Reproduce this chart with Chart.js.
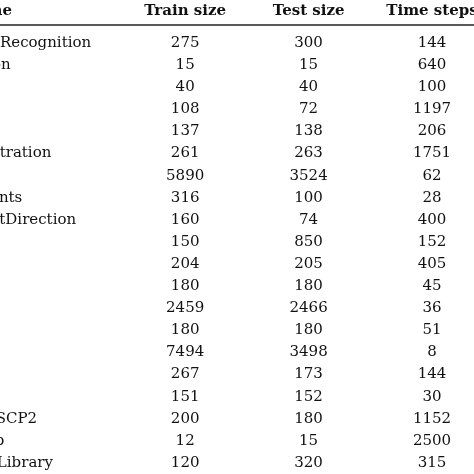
<!DOCTYPE html>
<html><head><meta charset="utf-8">
<script src="https://cdn.jsdelivr.net/npm/chart.js@4"></script>
<style>html,body{margin:0;padding:0;background:#fff}#c{display:block}</style>
</head><body>
<div style="width:474px;height:474px"><canvas id="c"></canvas></div>
<script>
const headers = ["Dataset name", "Train size", "Test size", "Time steps"];
const names = ["ArticularyWordRecognition","AtrialFibrillation","BasicMotions","Cricket","Epilepsy",
  "EthanolConcentration","FaceDetection","FingerMovements","HandMovementDirection","Handwriting",
  "Heartbeat","Libras","LSST","NATOPS","PenDigits","PEMS-SF","RacketSports","SelfRegulationSCP2",
  "StandWalkJump","UWaveGestureLibrary"];
const trainSize = [275,15,40,108,137,261,5890,316,160,150,204,180,2459,180,7494,267,151,200,12,120];
const testSize  = [300,15,40,72,138,263,3524,100,74,850,205,180,2466,180,3498,173,152,180,15,320];
const timeSteps = [144,640,100,1197,206,1751,62,28,400,152,405,45,36,51,8,144,30,1152,2500,315];

const FONT = '15px "DejaVu Serif", "Liberation Serif", serif';
const BOLD = 'bold 15px "DejaVu Serif", "Liberation Serif", serif';

const points = [];
const cols = [trainSize, testSize, timeSteps];
names.forEach((n, r) => {
  points.push({x: 0, y: n, t: n});
  cols.forEach((c, k) => points.push({x: k + 1, y: n, t: String(c[r])}));
});

const tablePlugin = {
  id: 'table',
  afterDatasetsDraw(chart) {
    const ctx = chart.ctx, xs = chart.scales.x, area = chart.chartArea;
    ctx.save();
    ctx.fillStyle = '#111';
    ctx.textBaseline = 'middle';
    ctx.font = FONT;
    const nameLeft = -ctx.measureText("ArticularyWord").width;
    const meta = chart.getDatasetMeta(0);
    meta.data.forEach((el, i) => {
      const p = points[i];
      if (p.x === 0) { ctx.textAlign = 'left'; ctx.fillText(p.t, nameLeft, el.y); }
      else { ctx.textAlign = 'center'; ctx.fillText(p.t, el.x, el.y); }
    });
    ctx.font = BOLD;
    const hy = area.top - 21;
    headers.forEach((h, k) => {
      if (k === 0) { ctx.textAlign = 'right'; ctx.fillText(h, 12, hy); }
      else { ctx.textAlign = 'center'; ctx.fillText(h, xs.getPixelForValue(k), hy); }
    });
    ctx.strokeStyle = '#222';
    ctx.lineWidth = 1.4;
    ctx.beginPath();
    ctx.moveTo(0, area.top - 7); ctx.lineTo(chart.width, area.top - 7);
    ctx.stroke();
    ctx.restore();
  }
};

new Chart(document.getElementById('c'), {
  type: 'scatter',
  data: { datasets: [{ data: points, pointRadius: 0, pointHoverRadius: 0 }] },
  options: {
    responsive: true, maintainAspectRatio: false, animation: false,
    layout: { padding: { top: 32, left: 0, right: 0, bottom: 0 } },
    plugins: { legend: { display: false }, tooltip: { enabled: false } },
    scales: {
      x: { type: 'linear', min: -0.5, max: 3.34, display: false },
      y: { type: 'category', labels: names, offset: true, display: false }
    }
  },
  plugins: [tablePlugin]
});
</script>
</body></html>
